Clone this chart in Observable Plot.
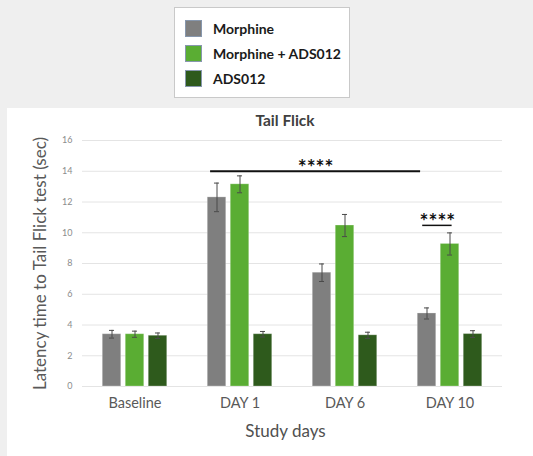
<!DOCTYPE html>
<html>
<head>
<meta charset="utf-8">
<script src="https://cdn.jsdelivr.net/npm/d3@7"></script>
<script src="https://cdn.jsdelivr.net/npm/@observablehq/plot@0.6"></script>
<style>
  html, body { margin: 0; padding: 0; }
  body { width: 533px; height: 456px; background: #efefef; position: relative; overflow: hidden; font-family: Lato, "DejaVu Sans", sans-serif; }
  #legend { position: absolute; left: 174px; top: 7px; width: 176px; height: 91px; background: #fff; border: 1px solid #c9c9c9; box-sizing: border-box; }
  .row { position: absolute; left: 10px; height: 18px; display: flex; align-items: center; }
  .sw { width: 17px; height: 17px; box-sizing: border-box; border: 1px solid #8797ad; margin-right: 11px; }
  .lab { font-weight: bold; font-size: 14px; color: #1a1a1a; white-space: nowrap; }
  #panel { position: absolute; left: 7px; top: 108px; right: 0; bottom: 0; background: #fff; }
  #chart { position: absolute; left: 0; top: 100px; }
  #title { position: absolute; left: 0; width: 570px; top: 111px; text-align: center; font-weight: bold; font-size: 15.5px; color: #404040; }
</style>
</head>
<body>
<div id="panel"></div>
<div id="legend"></div>
<div id="chart"></div>
<div id="title">Tail Flick</div>
<script>
// ---- data ----
const days = ["Baseline", "DAY 1", "DAY 6", "DAY 10"];
const series = ["Morphine", "Morphine + ADS012", "ADS012"];
const colors = ["#7f7f7f", "#5aad33", "#2e5a1c"];
const morphine = [3.4, 12.3, 7.4, 4.75];
const morphineErr = [0.25, 0.93, 0.57, 0.36];
const combo = [3.4, 13.15, 10.47, 9.27];
const comboErr = [0.2, 0.55, 0.72, 0.72];
const ads012 = [3.3, 3.4, 3.33, 3.41];
const ads012Err = [0.18, 0.18, 0.2, 0.22];
const yTicks = [0, 2, 4, 6, 8, 10, 12, 14, 16];
// significance annotations (x in group units, y in seconds)
const sigX1 = [0.72, 2.74];
const sigX2 = [2.72, 3.02];
const sigY = [14, 10.48];
const sigLabel = ["****", "****"];
const sigWidth = [2, 1.5];
const yLabel = "Latency time to Tail Flick test (sec)";
const xLabel = "Study days";

// ---- legend ----
const legend = document.getElementById("legend");
series.forEach((s, i) => {
  const row = document.createElement("div");
  row.className = "row";
  row.style.top = (11 + i * 25) + "px";
  const sw = document.createElement("div");
  sw.className = "sw";
  sw.style.background = colors[i];
  const lab = document.createElement("span");
  lab.className = "lab";
  lab.textContent = s;
  row.appendChild(sw); row.appendChild(lab);
  legend.appendChild(row);
});

// ---- table ----
const values = [morphine, combo, ads012];
const errs = [morphineErr, comboErr, ads012Err];
const step = 0.219, bw = 0.176, cap = 0.024;
const rows = [];
days.forEach((d, di) => series.forEach((s, si) => {
  rows.push({day: d, di, series: s, si, value: values[si][di], err: errs[si][di],
             cx: di + (si - 1) * step});
}));
const sig = sigLabel.map((l, i) => ({x1: sigX1[i], x2: sigX2[i], y: sigY[i], label: l, w: sigWidth[i]}));

const chart = Plot.plot({
  width: 533, height: 356,
  marginLeft: 82, marginRight: 31, marginTop: 40, marginBottom: 70,
  x: {domain: [-0.5, 3.5], axis: null},
  y: {domain: [0, 16], axis: null},
  color: {domain: series, range: colors},
  style: {background: "transparent", fontFamily: "Lato, sans-serif", overflow: "visible"},
  marks: [
    Plot.ruleY(yTicks, {y: d => d, stroke: "#e4e4e4", strokeWidth: 1}),
    Plot.text(yTicks, {y: d => d, text: d => String(d), frameAnchor: "left", textAnchor: "end", dx: -10, fontSize: 9, fill: "#8c8c8c"}),
    Plot.text(days, {x: (d, i) => i, text: d => d, frameAnchor: "bottom", dy: 21, fontSize: 14.5, fill: "#595959"}),
    Plot.rectY(rows, {x1: d => d.cx - bw / 2, x2: d => d.cx + bw / 2, y1: 0, y2: "value", fill: "series", stroke: "#ffffff", strokeOpacity: 0.25, strokeWidth: 1}),
    Plot.ruleX(rows, {x: "cx", y1: d => d.value - d.err, y2: d => d.value + d.err, stroke: "#4a4a4a", strokeWidth: 1}),
    Plot.ruleY(rows, {x1: d => d.cx - cap, x2: d => d.cx + cap, y: d => d.value + d.err, stroke: "#4a4a4a", strokeWidth: 1}),
    Plot.ruleY(rows, {x1: d => d.cx - cap, x2: d => d.cx + cap, y: d => d.value - d.err, stroke: "#4a4a4a", strokeWidth: 1}),
    Plot.ruleY(sig, {x1: "x1", x2: "x2", y: "y", stroke: "#111", strokeWidth: "w"}),
    Plot.text(sig, {x: d => (d.x1 + d.x2) / 2, y: "y", text: "label", dy: -3, fontSize: 21, fontWeight: "bold", fill: "#111"}),
    Plot.text([yLabel], {text: d => d, frameAnchor: "left", textAnchor: "middle", rotate: -90, dx: -42, fontSize: 17, fill: "#595959"}),
    Plot.text([xLabel], {text: d => d, frameAnchor: "bottom", dx: -7, dy: 50, fontSize: 17, fill: "#505050"})
  ]
});
document.getElementById("chart").appendChild(chart);
</script>
</body>
</html>
